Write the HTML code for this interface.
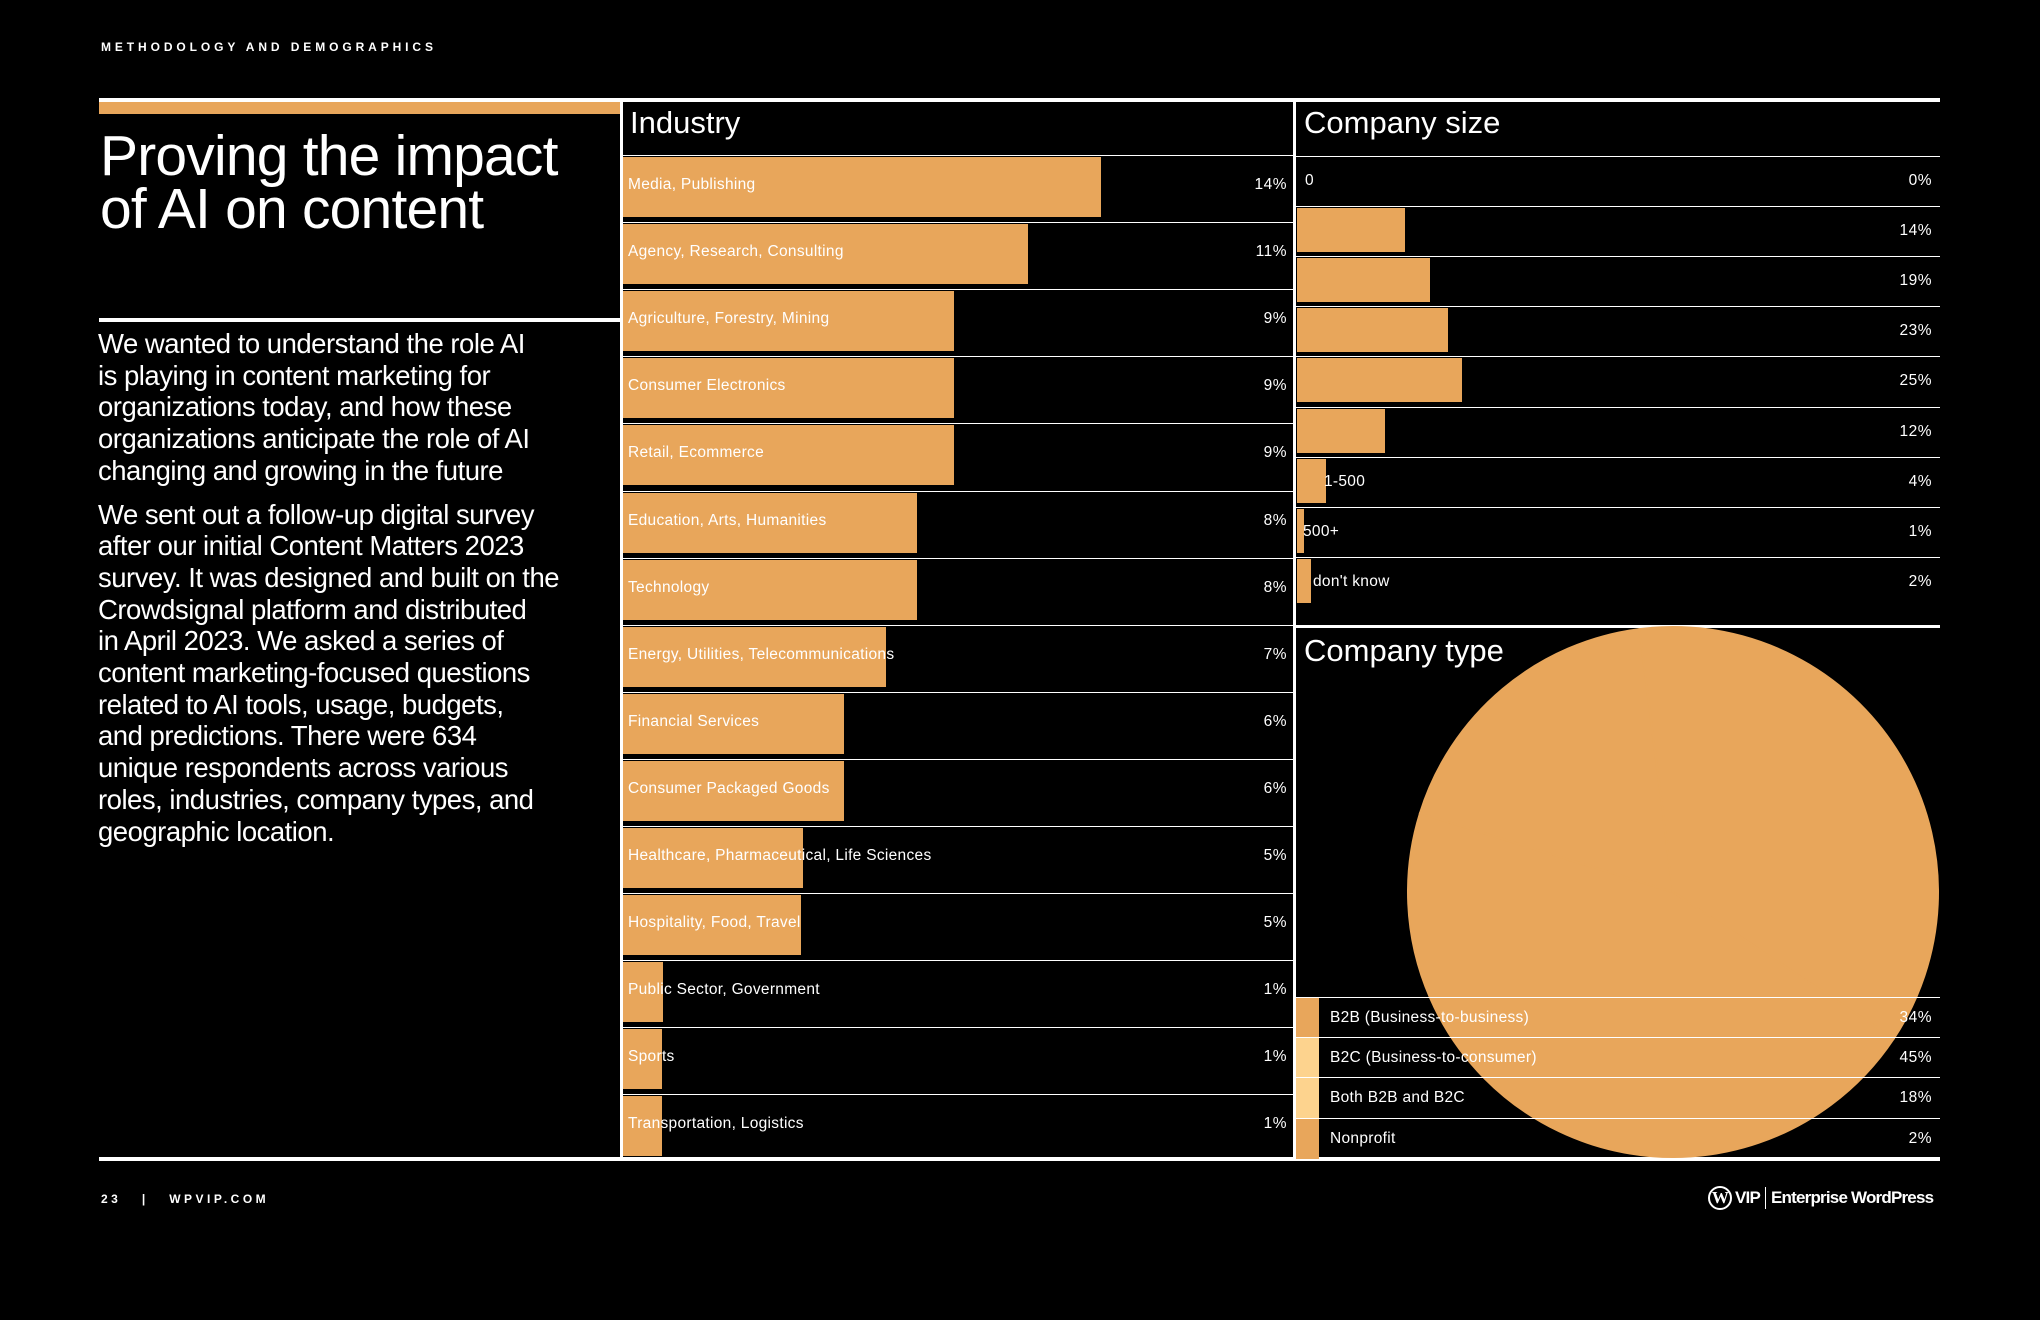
<!DOCTYPE html>
<html><head><meta charset="utf-8">
<style>
html,body{margin:0;padding:0;background:#000;}
body{width:2040px;height:1320px;position:relative;overflow:hidden;font-family:"Liberation Sans",sans-serif;color:#fff;}
.abs{position:absolute;}
.hdr{left:101px;top:40px;font-size:12px;font-weight:bold;letter-spacing:3.9px;}
.title{left:100px;top:130px;font-size:57px;line-height:53px;letter-spacing:-0.8px;white-space:nowrap;}
.body{left:98px;top:328px;font-size:27.5px;line-height:31.7px;letter-spacing:-0.5px;white-space:nowrap;}
.body p{margin:0 0 12px 0;}
.ptitle{font-size:31px;}
.lbl{font-size:15.5px;letter-spacing:0.3px;white-space:nowrap;}
.pct{font-size:15.5px;letter-spacing:0.5px;text-align:right;white-space:nowrap;}
</style></head>
<body>
<div class="abs hdr">METHODOLOGY AND DEMOGRAPHICS</div>
<div class="abs" style="left:99px;top:98px;width:1841px;height:4px;background:#fff"></div>
<div class="abs" style="left:99px;top:102px;width:521px;height:12px;background:#E8A65B"></div>
<div class="abs title">Proving the impact<br>of AI on content</div>
<div class="abs" style="left:99px;top:318px;width:522px;height:4px;background:#fff"></div>
<div class="abs body">
<p>We wanted to understand the role AI<br>is playing in content marketing for<br>organizations today, and how these<br>organizations anticipate the role of AI<br>changing and growing in the future</p>
<p>We sent out a follow-up digital survey<br>after our initial Content Matters 2023<br>survey. It was designed and built on the<br>Crowdsignal platform and distributed<br>in April 2023. We asked a series of<br>content marketing-focused questions<br>related to AI tools, usage, budgets,<br>and predictions. There were 634<br>unique respondents across various<br>roles, industries, company types, and<br>geographic location.</p>
</div>
<div class="abs" style="left:99px;top:1157px;width:1841px;height:4px;background:#fff"></div>
<div class="abs" style="left:620px;top:98px;width:3px;height:1062px;background:#fff"></div>
<div class="abs" style="left:1293px;top:98px;width:3px;height:1062px;background:#fff"></div>
<div class="abs ptitle" style="left:630px;top:105px">Industry</div>
<div class="abs ptitle" style="left:1304px;top:105px">Company size</div>
<div class="abs" style="left:1296px;top:625px;width:644px;height:3px;background:#fff"></div>
<div class="abs ptitle" style="left:1304px;top:633px">Company type</div>
<svg id="pie" class="abs" style="left:0;top:0" width="2040" height="1320"></svg>
<div id="charts"></div>
<div class="abs" style="left:101px;top:1192px;font-size:12px;font-weight:bold;letter-spacing:3.5px">23&nbsp;&nbsp;&nbsp;|&nbsp;&nbsp;&nbsp;WPVIP.COM</div>
<div class="abs" style="left:1708px;top:1186px;font-size:17px;font-weight:bold;letter-spacing:-0.8px;white-space:nowrap;display:flex;align-items:center">
<span style="display:inline-block;width:20px;height:20px;border:2px solid #fff;border-radius:50%;text-align:center;line-height:20px;font-family:'Liberation Serif',serif;font-size:17px;margin-right:3px">W</span>VIP<span style="display:inline-block;width:1px;height:22px;background:#fff;margin:0 5px"></span>Enterprise WordPress</div>
<script>
const industryCats=["Media, Publishing","Agency, Research, Consulting","Agriculture, Forestry, Mining","Consumer Electronics","Retail, Ecommerce","Education, Arts, Humanities","Technology","Energy, Utilities, Telecommunications","Financial Services","Consumer Packaged Goods","Healthcare, Pharmaceutical, Life Sciences","Hospitality, Food, Travel","Public Sector, Government","Sports","Transportation, Logistics"];
const industryVals=[13.0,11.0,9.0,9.0,9.0,8.0,8.0,7.15,6.0,6.0,4.9,4.85,1.1,1.05,1.05];
const industryLabels=["14%","11%","9%","9%","9%","8%","8%","7%","6%","6%","5%","5%","1%","1%","1%"];
const sizeCats=["0","","","","","","1-500","500+","don't know"];
const sizeVals=[0,15.9,19.6,22.2,24.3,13.0,4.2,1.0,2.1];
const sizeLabels=["0%","14%","19%","23%","25%","12%","4%","1%","2%"];
const typeCats=["B2B (Business-to-business)","B2C (Business-to-consumer)","Both B2B and B2C","Nonprofit"];
const typeVals=[34,45,18,2];
const typeLabels=["34%","45%","18%","2%"];
const typeSwatch=["#E8A65B","#FDD38E","#FDD38E","#E8A65B"];

const C=document.getElementById('charts');
const OR="#E8A65B";
function div(css,txt,cls){const d=document.createElement('div');d.className='abs '+(cls||'');d.style.cssText=css;if(txt!==undefined)d.textContent=txt;C.appendChild(d);return d;}
const indX=v=>v*36.8, indY=i=>156+i*67.1;
industryCats.forEach((c,i)=>{
  const y=indY(i);
  const ln=div(`left:623px;top:${y-1}px;width:670px;height:1px;background:#fff`);
  
  
  const b=div(`left:623px;top:${y+1}px;width:${indX(industryVals[i])}px;height:60px;background:${OR}`);
  
  
  const l=div(`left:628px;top:${y+20}px`,c,'lbl');
  
  
  const p=div(`right:${2040-1287}px;top:${y+20}px`,industryLabels[i],'pct');
  
  
});
const szX=v=>v*6.8, szY=i=>157+i*50.1;
const szLblX=[1305,0,0,0,0,0,1324,1303,1313];
sizeCats.forEach((c,i)=>{
  const y=szY(i);
  const ln=div(`left:1296px;top:${y-1}px;width:644px;height:1px;background:#fff`);
  
  
  const b=div(`left:1297px;top:${y+1}px;width:${szX(sizeVals[i])}px;height:44px;background:${OR}`);
  
  
  if(c){const l=div(`left:${szLblX[i]}px;top:${y+15}px`,c,'lbl');
  
  }
  const p=div(`right:${2040-1932}px;top:${y+15}px`,sizeLabels[i],'pct');
  
  
});
const svg=document.getElementById('pie');
const cx=1673,cy=892,r=265;
const tot=typeVals.reduce((a,b)=>a+b,0);
let ang=-Math.PI/2;
typeVals.forEach((v,i)=>{
  const a2=ang+v/tot*2*Math.PI;
  const x1=cx+r*Math.cos(ang),y1=cy+r*Math.sin(ang),x2=cx+r*Math.cos(a2),y2=cy+r*Math.sin(a2);
  const pth=document.createElementNS('http://www.w3.org/2000/svg','path');
  pth.setAttribute('d',`M${cx},${cy} L${x1},${y1} A${r},${r} 0 ${a2-ang>Math.PI?1:0} 1 ${x2},${y2} Z`);
  pth.setAttribute('fill',OR);
  pth.setAttribute('stroke',OR);
  pth.setAttribute('stroke-width','2');
  
  
  svg.appendChild(pth);
  ang=a2;
});
const lgY=i=>998+i*40.2;
typeCats.forEach((c,i)=>{
  const y=lgY(i);
  const ln=div(`left:1296px;top:${y-1}px;width:644px;height:1px;background:#fff`);
  
  
  const s=div(`left:1296px;top:${y}px;width:23px;height:40px;background:${typeSwatch[i]}`);
  
  
  const l=div(`left:1330px;top:${y+11}px`,c,'lbl');
  
  
  const p=div(`right:${2040-1932}px;top:${y+11}px`,typeLabels[i],'pct');
  
  
});
</script>
</body></html>
